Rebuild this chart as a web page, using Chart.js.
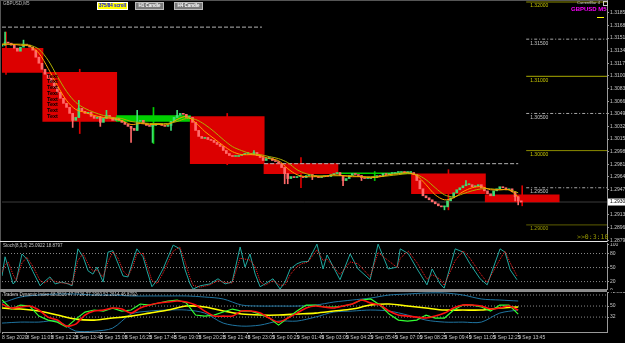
<!DOCTYPE html>
<html><head><meta charset="utf-8">
<script src="https://cdn.jsdelivr.net/npm/chart.js@4.4.1/dist/chart.umd.min.js"></script>
<style>
html,body{margin:0;padding:0;background:#000;}
#wrap{position:relative;width:625px;height:343px;overflow:hidden;background:#000;font-family:"Liberation Sans",Arial,sans-serif;}
canvas{position:absolute;left:0;}
.t{position:absolute;white-space:nowrap;line-height:1;}
.btn{position:absolute;height:6px;font-size:4.5px;font-weight:bold;text-align:center;line-height:6px;}
.ln{position:absolute;}
</style></head><body>
<div id="wrap">
<canvas id="main" width="625" height="242" style="top:0"></canvas>
<canvas id="stoch" width="625" height="47" style="top:243px"></canvas>
<canvas id="tdi" width="625" height="51" style="top:292px"></canvas>

<div class="ln" style="left:0;top:0;width:607px;height:1px;background:#555"></div>
<div class="ln" style="left:0;top:0;width:1px;height:333px;background:#555"></div>
<div class="ln" style="left:0;top:241px;width:607px;height:1px;background:#e6e6e6"></div>
<div class="ln" style="left:0;top:289px;width:607px;height:3px;background:#8c8c8c"></div>

<div class="t" style="left:3px;top:2px;font-size:4.5px;color:#bdbdbd">GBPUSD,M5</div>
<div class="btn" style="left:97px;top:2px;width:29px;background:#ffff00;color:#0000ff;border:1px solid #fff">375/84 scroll</div>
<div class="btn" style="left:135px;top:2px;width:27px;background:#7a7a7a;color:#fff;border:1px solid #bbb">H1 Candle</div>
<div class="btn" style="left:174px;top:2px;width:27px;background:#7a7a7a;color:#fff;border:1px solid #bbb">H4 Candle</div>
<div class="t" style="left:577px;top:1px;font-size:4px;color:#cfcfcf">CurrentBar 4</div>
<div class="ln" style="left:603px;top:1px;width:3px;height:3px;border:1px solid #ccc"></div>
<div class="t" style="left:571px;top:6px;font-size:6px;font-weight:bold;color:#ff00ff">GBPUSD M5</div>
<div class="ln" style="left:597px;top:17px;width:7px;height:1px;background:#ffff00"></div>
<div class="t" style="left:577px;top:234px;font-size:6.5px;color:#9a9a00;font-family:'DejaVu Sans Mono',monospace">&gt;&gt;0:3:10</div>
<div class="t" style="left:3px;top:244px;font-size:4.5px;color:#c8c8c8">Stoch(8,3,3) 25.0922 18.8797</div>
<div class="t" style="left:3px;top:293px;font-size:4.5px;color:#c8c8c8">Traders Dynamic Index 68.3516 47.7726 37.2960 52.2614 46.8792</div>
</div>

<script>
// ---------------- DATA ----------------
// candle time index: one candle per 10 minutes (2 x M5 bars)
const closes = [1.31419,1.31460,1.31446,1.31419,1.31379,1.31338,1.31392,1.31433,1.31419,1.31392,
 1.31352,1.31257,1.31176,1.31095,1.31028,1.30974,1.30920,1.30853,1.30785,1.30704,
 1.30636,1.30582,1.30501,1.30407,1.30447,1.30569,1.30528,1.30501,1.30515,1.30461,
 1.30434,1.30447,1.30380,1.30434,1.30474,1.30447,1.30407,1.30434,1.30407,1.30380,
 1.30353,1.30326,1.30299,1.30272,1.30393,1.30407,1.30366,1.30339,1.30326,1.30339,
 1.30366,1.30353,1.30339,1.30326,1.30339,1.30393,1.30447,1.30474,1.30501,1.30488,
 1.30447,1.30447,1.30380,1.30272,1.30191,1.30164,1.30177,1.30150,1.30137,1.30110,
 1.30083,1.30056,1.30002,1.29961,1.29934,1.29921,1.29921,1.29934,1.29948,1.29961,
 1.29961,1.29948,1.29975,1.29934,1.29907,1.29867,1.29894,1.29894,1.29867,1.29853,
 1.29826,1.29772,1.29691,1.29624,1.29651,1.29637,1.29651,1.29651,1.29637,1.29664,
 1.29678,1.29664,1.29651,1.29637,1.29651,1.29664,1.29651,1.29678,1.29691,1.29705,
 1.29664,1.29597,1.29624,1.29664,1.29691,1.29678,1.29664,1.29637,1.29624,1.29624,
 1.29637,1.29637,1.29664,1.29651,1.29691,1.29678,1.29691,1.29691,1.29705,1.29705,
 1.29718,1.29705,1.29705,1.29705,1.29678,1.29597,1.29486,1.29392,1.29365,1.29338,
 1.29311,1.29284,1.29257,1.29243,1.29243,1.29324,1.29365,1.29432,1.29473,1.29500,
 1.29527,1.29541,1.29541,1.29514,1.29527,1.29541,1.29500,1.29459,1.29419,1.29392,
 1.29459,1.29486,1.29514,1.29500,1.29473,1.29486,1.29446,1.29378,1.29324,1.29308];
const opens = [1.31405,1.31419,1.31460,1.31446,1.31419,1.31379,1.31338,1.31392,1.31433,1.31419,
 1.31392,1.31352,1.31257,1.31176,1.31095,1.31028,1.30974,1.30920,1.30853,1.30785,
 1.30704,1.30636,1.30582,1.30501,1.30407,1.30447,1.30569,1.30528,1.30501,1.30515,
 1.30461,1.30434,1.30447,1.30380,1.30434,1.30474,1.30447,1.30407,1.30434,1.30407,
 1.30380,1.30353,1.30326,1.30299,1.30272,1.30393,1.30407,1.30366,1.30339,1.30326,
 1.30339,1.30366,1.30353,1.30339,1.30326,1.30339,1.30393,1.30447,1.30474,1.30501,
 1.30488,1.30447,1.30447,1.30380,1.30272,1.30191,1.30164,1.30177,1.30150,1.30137,
 1.30110,1.30083,1.30056,1.30002,1.29961,1.29934,1.29921,1.29921,1.29934,1.29948,
 1.29961,1.29961,1.29948,1.29975,1.29934,1.29907,1.29867,1.29894,1.29894,1.29867,
 1.29853,1.29826,1.29772,1.29691,1.29624,1.29651,1.29637,1.29651,1.29651,1.29637,
 1.29664,1.29678,1.29664,1.29651,1.29637,1.29651,1.29664,1.29651,1.29678,1.29691,
 1.29705,1.29664,1.29597,1.29624,1.29664,1.29691,1.29678,1.29664,1.29637,1.29624,
 1.29624,1.29637,1.29637,1.29664,1.29651,1.29691,1.29678,1.29691,1.29691,1.29705,
 1.29705,1.29718,1.29705,1.29705,1.29705,1.29678,1.29597,1.29486,1.29392,1.29365,
 1.29338,1.29311,1.29284,1.29257,1.29243,1.29243,1.29324,1.29365,1.29432,1.29473,
 1.29500,1.29527,1.29541,1.29541,1.29514,1.29527,1.29541,1.29500,1.29459,1.29419,
 1.29392,1.29459,1.29486,1.29514,1.29500,1.29473,1.29486,1.29446,1.29378,1.29324];
// visible wicks (spikes)
const wickIdx  = [1,7,23,25,32,34,42,44,49,55,57,82,92,93,101,111,117,144,151,167,168];
const wickLow  = [1.31419,1.31419,1.30312,1.30447,1.30326,1.30434,1.30110,1.30272,1.30110,1.30272,1.30447,1.29948,1.29554,1.29554,1.29610,1.29527,1.29597,1.29203,1.29527,1.29324,1.29270];
const wickHigh = [1.31595,1.31487,1.30501,1.30677,1.30461,1.30542,1.30326,1.30542,1.30339,1.30393,1.30542,1.30002,1.29772,1.29691,1.29678,1.29664,1.29664,1.29243,1.29595,1.29446,1.29378];
// H4 candles (mid time in candle index)
const h4Mid   = [1.3,25.3,49.3,73.3,97.3,121.3,145.3,169.3];
const h4Open  = [1.31378,1.31054,1.30392,1.30459,1.29824,1.29689,1.29689,1.29405];
const h4Close = [1.31054,1.30392,1.30473,1.29824,1.29689,1.29695,1.29419,1.29308];
const h4High  = [1.31595,1.31095,1.30581,1.30500,1.29905,1.29718,1.29743,1.29527];
const h4Low   = [1.31027,1.30230,1.30095,1.29810,1.29500,1.29597,1.29203,1.29257];
// moving averages sampled every 3 candles
const maTimes = [0,3,6,9,12,15,18,21,24,27,30,33,36,39,42,45,48,51,54,57,60,63,66,69,72,75,78,81,84,87,90,93,96,99,102,105,108,111,114,117,120,123,126,129,132,135,138,141,144,147,150,153,156,159,162,165,168];
const maFast = [1.31432,1.31432,1.31419,1.31405,1.31311,1.31108,1.30878,1.30676,1.30554,1.30514,1.30473,1.30446,1.30432,1.30405,1.30351,1.30365,1.30351,1.30351,1.30351,1.30419,1.30459,1.30378,1.30257,1.30162,1.30068,1.29986,1.29946,1.29946,1.29932,1.29892,1.29865,1.29757,1.29676,1.29649,1.29649,1.29649,1.29676,1.29662,1.29649,1.29649,1.29635,1.29649,1.29676,1.29689,1.29703,1.29662,1.29541,1.29405,1.29338,1.29365,1.29446,1.29500,1.29514,1.29473,1.29473,1.29473,1.29378];
const maSlow = [1.31432,1.31432,1.31432,1.31419,1.31365,1.31216,1.31000,1.30797,1.30649,1.30568,1.30514,1.30473,1.30446,1.30432,1.30392,1.30378,1.30365,1.30365,1.30365,1.30392,1.30432,1.30419,1.30351,1.30257,1.30149,1.30054,1.30000,1.29959,1.29946,1.29919,1.29892,1.29838,1.29743,1.29689,1.29662,1.29662,1.29662,1.29662,1.29662,1.29649,1.29649,1.29649,1.29662,1.29676,1.29689,1.29676,1.29608,1.29500,1.29405,1.29378,1.29419,1.29459,1.29486,1.29486,1.29473,1.29473,1.29432];
// reference lines
const prevHigh = 1.31662, prevHighFrom = 0, prevHighTo = 84.6;
const prevLow = 1.29824, prevLowFrom = 85.3, prevLowTo = 168;
const levelPrices = [1.32000,1.31500,1.31000,1.30500,1.30000,1.29500,1.29000];
const levelFrom = 170.6;
const currentPrice = 1.29308;
const priceTicks = [1.31855,1.31685,1.31515,1.31345,1.31175,1.31005,1.30835,1.30665,1.30495,1.30325,1.30155,1.29985,1.29815,1.29645,1.29475,1.29305,1.29135,1.28965,1.28795];
// stochastic
const stochTimes = [0,1,2,3.6,4.6,6.5,8.1,10.1,12.4,14,15.6,17.3,19.5,21.5,22.8,24.7,26.4,28,29.6,30.9,32.9,34.5,36.1,37.8,39.4,41,42.6,43.9,45.9,47.2,48.8,50.5,52.4,55.7,57.9,59.6,61.2,62.2,64.5,67.7,70.3,72.6,74.9,77.5,79.1,80.7,82.4,84,85.6,88.2,90.5,92.1,93.8,96,97.5,99.6,102.5,104.5,105.8,110,113.3,115.9,119.8,122.4,125.7,128.6,129.6,132.2,135.1,138.3,140,142.6,143.9,147.5,150.1,152.3,155.6,157.9,162.1,163.7,165.4,167.6];
const stochMain = [32,73,51,15,21,79,68,41,11,21,30,15,19,15,11,90,73,43,36,51,19,83,86,58,32,30,64,90,73,43,9,23,47,98,90,45,15,4,11,15,26,15,19,94,51,79,36,9,15,26,4,19,47,58,62,63,100,47,77,24,79,47,24,100,47,51,90,80,47,13,47,15,6,90,83,58,26,13,90,83,45,24];
const stochSignal = [40,55,62,35,22,60,72,52,22,17,26,20,17,16,13,65,80,58,42,45,30,62,84,70,43,32,52,80,80,55,22,16,38,85,94,62,28,12,8,13,22,18,17,70,68,66,52,20,12,22,12,13,35,52,58,62,88,65,68,35,62,58,30,82,65,50,70,85,60,25,35,25,12,65,86,70,38,18,68,85,60,32];
const stochLevels = [20,50,80];
const stochTicks = [0,20,50,80,100];
// TDI
const tdiTimes = [0,3,6,9,12,15,18,21,24,27,30,33,36,39,42,45,48,51,54,57,60,63,66,69,72,75,78,81,84,87,90,93,96,99,102,105,108,111,114,117,120,123,126,129,132,135,138,141,144,147,150,153,156,159,162,165,168];
const tdiRsi = [59.8,45.1,51.6,50.0,33.6,27.1,23.8,15.6,28.7,40.2,43.5,41.8,46.7,41.8,43.5,53.3,51.6,54.9,58.2,59.8,54.9,35.3,33.6,35.3,40.2,45.1,41.8,41.8,36.9,30.4,18.9,30.4,41.8,51.6,51.6,48.4,48.4,50.0,53.3,59.8,61.5,51.6,36.9,27.1,25.5,27.1,35.3,30.4,30.4,43.5,51.6,51.6,48.4,41.8,51.6,51.6,36.9];
const tdiSignal = [53.3,46.7,48.4,50.0,43.5,32.0,27.1,17.3,20.5,35.3,41.8,43.5,46.7,45.1,38.5,46.7,51.6,54.9,56.5,58.2,56.5,51.6,41.8,33.6,33.6,33.6,41.8,41.8,38.5,30.4,23.8,30.4,38.5,46.7,50.0,48.4,46.7,50.0,53.3,59.8,54.9,51.6,41.8,35.3,33.6,32.0,30.4,33.6,38.5,46.7,51.6,51.6,50.0,45.1,46.7,50.0,43.5];
const tdiBandTimes = [0,6,12,18,24,30,36,42,48,54,60,66,72,78,84,90,96,102,108,114,120,126,132,138,144,150,156,162,168];
const tdiUpper = [54.9,64.7,68.0,69.6,69.6,68.0,68.0,66.4,66.4,66.4,66.4,64.7,61.5,51.6,50.0,50.0,50.0,51.6,56.5,59.8,63.1,68.0,69.6,71.3,71.3,68.0,61.5,59.8,58.2];
const tdiLower = [22.2,23.8,23.8,25.5,9.1,9.1,14.0,36.9,41.8,43.5,43.5,38.5,22.2,17.3,18.9,25.5,25.5,32.0,40.2,41.8,43.5,41.8,35.3,27.1,23.8,23.8,23.8,38.5,43.5];
const tdiBase = [46.7,45.1,41.8,35.3,28.7,27.1,30.4,33.6,38.5,43.5,50.0,48.4,41.8,36.9,35.3,35.3,36.9,38.5,41.8,45.1,51.6,53.3,50.0,46.7,43.5,43.5,43.5,46.7,48.4];
const tdiLevels = [32,50,68];
const tdiMin = 7.6733, tdiMax = 72.893;
const tdiTicks = [32,50,72.893];
// time axis
const timeTickIdx = [0,8,16,24,32,40,48,56,64,72,80,88,96,104,112,120,128,136,144,152,160,168];
const timeLabels = ["8 Sep 2020","8 Sep 11:05","8 Sep 12:25","8 Sep 13:45","8 Sep 15:05","8 Sep 16:25","8 Sep 17:45","8 Sep 19:05","8 Sep 20:25","8 Sep 21:45","8 Sep 23:05","9 Sep 00:25","9 Sep 01:45","9 Sep 03:05","9 Sep 04:25","9 Sep 05:45","9 Sep 07:05","9 Sep 08:25","9 Sep 09:45","9 Sep 11:05","9 Sep 12:25","9 Sep 13:45"];

// ---------------- STYLE ----------------
const X_MIN = 0, X_MAX = 196.9;
const BULL = '#3fdc72', BEAR = '#ff6a6a';
const BOX_RED = '#dc0000', BOX_GREEN = '#00d000';
const FONT = 'Liberation Sans';
const levelColors = ['#8c8c00','#a8a8a8','#aaaa00','#a8a8a8','#8c8c00','#a8a8a8','#5e5e00'];
const levelLabelColors = ['#c8c800','#c8c8c8','#c8c800','#c8c8c8','#c8c800','#c8c8c8','#a0a000'];
const levelDash = [[],[3,2,1,2],[],[3,2,1,2],[],[3,2,1,2],[]];

function rightAxis(min,max,vals,fmt){
  return {type:'linear',position:'right',min:min,max:max,
    afterFit(s){s.width=18;s.paddingTop=0;s.paddingBottom=0;},
    afterBuildTicks(s){s.ticks=vals.map(v=>({value:v}));},
    ticks:{color:'#c8c8c8',font:{family:FONT,size:5},padding:1,autoSkip:false,callback:fmt},
    grid:{drawOnChartArea:false,color:'#9a9a9a',tickLength:2},
    border:{color:'#9a9a9a'}};
}
const common = {responsive:false,animation:false,devicePixelRatio:1,events:[],
  layout:{padding:{left:2,right:0,top:0,bottom:0}},
  plugins:{legend:{display:false},tooltip:{enabled:false}}};

function hline(x0,x1,y,color,dash,order){
  return {type:'line',data:[{x:x0,y:y},{x:x1,y:y}],borderColor:color,borderWidth:1,borderDash:dash,pointRadius:0,order:order};
}

// ---------------- MAIN CHART ----------------
const mainDatasets = [];
mainDatasets.push(hline(X_MIN,X_MAX,currentPrice,'#3c3c3c',[],20));
mainDatasets.push({type:'bar',data:h4Mid.map((t,j)=>({x:t,y:[h4Open[j],h4Close[j]]})),
  backgroundColor:h4Mid.map((t,j)=>h4Close[j]>h4Open[j]?BOX_GREEN:BOX_RED),
  barThickness:74,grouped:false,minBarLength:1,borderWidth:0,order:15});
mainDatasets.push({type:'bar',data:h4Mid.map((t,j)=>({x:t,y:[h4Low[j],h4High[j]]})),
  backgroundColor:h4Mid.map((t,j)=>h4Close[j]>h4Open[j]?BOX_GREEN:BOX_RED),
  barThickness:1,grouped:false,borderWidth:0,order:16});
mainDatasets.push(hline(prevHighFrom,prevHighTo,prevHigh,'#b4b4b4',[4,2],12));
mainDatasets.push(hline(prevLowFrom,prevLowTo,prevLow,'#b4b4b4',[4,2],12));
levelPrices.forEach((p,i)=>mainDatasets.push(hline(levelFrom,X_MAX,p,levelColors[i],levelDash[i],11)));
mainDatasets.push({type:'bar',data:wickIdx.map((t,j)=>({x:t,y:[wickLow[j],wickHigh[j]]})),
  backgroundColor:wickIdx.map(t=>closes[t]>=opens[t]?BULL:BEAR),
  barThickness:1,grouped:false,borderWidth:0,order:6});
mainDatasets.push({type:'bar',data:closes.map((c,i)=>({x:i,y:[opens[i],c]})),
  backgroundColor:closes.map((c,i)=>c>=opens[i]?BULL:BEAR),
  barThickness:2,grouped:false,minBarLength:1,borderWidth:0,order:5});
mainDatasets.push({type:'line',data:maTimes.map((t,i)=>({x:t,y:maSlow[i]})),borderColor:'#b0b000',borderWidth:1,pointRadius:0,tension:0.3,order:3});
mainDatasets.push({type:'line',data:maTimes.map((t,i)=>({x:t,y:maFast[i]})),borderColor:'#ffa000',borderWidth:1,pointRadius:0,tension:0.3,order:2});

const mainOverlay = {id:'mainOverlay',
  afterDatasetsDraw(chart){
    const {ctx,scales:{x,y}} = chart;
    ctx.save();
    ctx.font = '5px "'+FONT+'"'; ctx.textBaseline='top'; ctx.textAlign='left';
    levelPrices.forEach((p,i)=>{ctx.fillStyle=levelLabelColors[i];ctx.fillText(p.toFixed(5),x.getPixelForValue(levelFrom)+4,y.getPixelForValue(p)+1.5);});
    ctx.font = 'bold 5.5px "'+FONT+'"'; ctx.fillStyle='#000'; ctx.textBaseline='middle';
    for(let k=0;k<8;k++) ctx.fillText('Text',47,76+k*5.75);
    ctx.restore();
  },
  afterDraw(chart){
    const {ctx,scales:{y},chartArea} = chart;
    const py = y.getPixelForValue(currentPrice);
    ctx.save();
    ctx.fillStyle='#fff'; ctx.fillRect(chartArea.right+1,py-3.5,17,7);
    ctx.fillStyle='#000'; ctx.font='5px "'+FONT+'"'; ctx.textBaseline='middle'; ctx.textAlign='left';
    ctx.fillText(currentPrice.toFixed(5),chartArea.right+3,py);
    ctx.restore();
  }};

new Chart(document.getElementById('main'),{type:'bar',data:{datasets:mainDatasets},
  options:Object.assign({},common,{
    scales:{x:{type:'linear',min:X_MIN,max:X_MAX,display:false,offset:false},
            y:rightAxis(1.28770,1.32027,priceTicks,v=>Number(v).toFixed(5))}}),
  plugins:[mainOverlay]});

// ---------------- STOCHASTIC ----------------
const stochDatasets = stochLevels.map(l=>hline(X_MIN,X_MAX,l,'#8a8a8a',[1,2],5));
stochDatasets.push({data:stochTimes.map((t,i)=>({x:t,y:stochMain[i]})),borderColor:'#20a8a0',borderWidth:1,pointRadius:0,order:2});
stochDatasets.push({data:stochTimes.map((t,i)=>({x:t,y:stochSignal[i]})),borderColor:'#ff2020',borderWidth:1,borderDash:[1,1],pointRadius:0,order:1});
new Chart(document.getElementById('stoch'),{type:'line',data:{datasets:stochDatasets},
  options:Object.assign({},common,{
    scales:{x:{type:'linear',min:X_MIN,max:X_MAX,display:false},
            y:rightAxis(2,102.5,stochTicks,v=>String(v))}})});

// ---------------- TDI ----------------
const tdiDatasets = tdiLevels.map(l=>hline(X_MIN,X_MAX,l,'#8a8a8a',[1,2],9));
tdiDatasets.push({data:tdiBandTimes.map((t,i)=>({x:t,y:tdiUpper[i]})),borderColor:'#1f74a0',borderWidth:1,pointRadius:0,tension:0.3,order:6});
tdiDatasets.push({data:tdiBandTimes.map((t,i)=>({x:t,y:tdiLower[i]})),borderColor:'#1f74a0',borderWidth:1,pointRadius:0,tension:0.3,order:6});
tdiDatasets.push({data:tdiBandTimes.map((t,i)=>({x:t,y:tdiBase[i]})),borderColor:'#ffff00',borderWidth:1.6,pointRadius:0,tension:0.3,order:5});
tdiDatasets.push({data:tdiTimes.map((t,i)=>({x:t,y:tdiRsi[i]})),borderColor:'#33ff33',borderWidth:1.2,pointRadius:0,order:3});
tdiDatasets.push({data:tdiTimes.map((t,i)=>({x:t,y:tdiSignal[i]})),borderColor:'#ff1010',borderWidth:1.6,pointRadius:0,tension:0.2,order:2});
new Chart(document.getElementById('tdi'),{type:'line',data:{datasets:tdiDatasets},
  options:Object.assign({},common,{
    scales:{x:{type:'linear',min:X_MIN,max:X_MAX,position:'bottom',
              afterFit(s){s.height=11;s.paddingLeft=0;s.paddingRight=0;},
              afterBuildTicks(s){s.ticks=timeTickIdx.map(v=>({value:v}));},
              ticks:{color:'#c8c8c8',font:{family:FONT,size:5},padding:1,autoSkip:false,maxRotation:0,minRotation:0,align:'start',callback:(v,i)=>timeLabels[i]},
              grid:{drawOnChartArea:false,color:'#9a9a9a',tickLength:2},
              border:{color:'#9a9a9a'}},
            y:rightAxis(tdiMin,tdiMax,tdiTicks,v=>v===tdiMax?'72.8930':String(v))}})});
</script>
</body></html>
